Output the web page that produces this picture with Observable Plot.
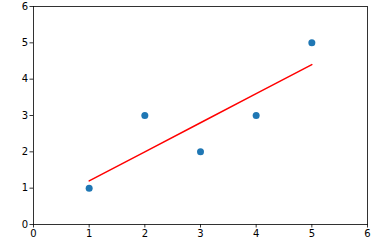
<!DOCTYPE html>
<html>
<head>
<meta charset="utf-8">
<script src="https://cdn.jsdelivr.net/npm/d3@7"></script>
<script src="https://cdn.jsdelivr.net/npm/@observablehq/plot@0.6"></script>
<style>
  html, body { margin: 0; padding: 0; background: #fff; }
  svg { display: block; }
</style>
</head>
<body>
<div id="chart"></div>
<script>
const xs = [1, 2, 3, 4, 5];
const ys = [1, 3, 2, 3, 5];
const fitX = [1, 2, 3, 4, 5];
const fitY = [1.2, 2.0, 2.8, 3.6, 4.4];
const xTicks = [0, 1, 2, 3, 4, 5, 6];
const yTicks = [0, 1, 2, 3, 4, 5, 6];

const points = xs.map((x, i) => ({x, y: ys[i]}));
const fit = fitX.map((x, i) => ({x, y: fitY[i]}));

const chart = Plot.plot({
  width: 391,
  height: 246,
  marginLeft: 33,
  marginTop: 6,
  marginBottom: 22,
  marginRight: 24,
  style: {fontFamily: "DejaVu Sans", fontSize: "10px", color: "#000", background: "#fff"},
  x: {domain: [0, 6]},
  y: {domain: [0, 6]},
  marks: [
    Plot.axisX({ticks: xTicks, tickFormat: d => String(d), tickSize: 3.5, tickPadding: 2, label: null, stroke: "#000", strokeWidth: 0.8, fill: "#000", fontSize: 10}),
    Plot.axisY({ticks: yTicks, tickFormat: d => String(d), tickSize: 3.5, tickPadding: 2, label: null, stroke: "#000", strokeWidth: 0.8, fill: "#000", fontSize: 10}),
    Plot.frame({stroke: "#000", strokeWidth: 0.8}),
    Plot.line(fit, {x: "x", y: "y", stroke: "red", strokeWidth: 1.5}),
    Plot.dot(points, {x: "x", y: "y", r: 3.5, fill: "#1f77b4", stroke: "none"})
  ]
});
document.getElementById("chart").appendChild(chart);
</script>
</body>
</html>
